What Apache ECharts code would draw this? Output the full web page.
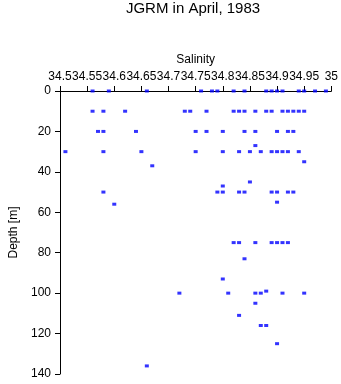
<!DOCTYPE html>
<html>
<head>
<meta charset="utf-8">
<script src="https://cdn.jsdelivr.net/npm/echarts@6/dist/echarts.min.js"></script>
<style>html,body{margin:0;padding:0;background:#fff}#c{width:341px;height:384px}</style>
</head>
<body>
<div id="c"></div>
<script>
var titleText = "JGRM in April, 1983";
var xName = "Salinity";
var yName = "Depth [m]";
var salinity = [
  34.56, 34.59, 34.66, 34.76, 34.78, 34.79, 34.82, 34.84, 34.88, 34.89, 34.90, 34.91, 34.94, 34.95, 34.97, 34.99,
  34.56, 34.58, 34.62, 34.73, 34.74, 34.77, 34.82, 34.83, 34.84, 34.86, 34.88, 34.89, 34.91, 34.92, 34.93, 34.94, 34.95,
  34.57, 34.58, 34.64, 34.75, 34.77, 34.80, 34.84, 34.86, 34.90, 34.92, 34.93,
  34.86,
  34.51, 34.58, 34.65, 34.75, 34.80, 34.83, 34.85, 34.87, 34.89, 34.90, 34.91, 34.92, 34.94,
  34.95, 34.67, 34.85, 34.80,
  34.58, 34.79, 34.80, 34.83, 34.84, 34.89, 34.90, 34.92, 34.93,
  34.90, 34.60,
  34.82, 34.83, 34.86, 34.89, 34.90, 34.91, 34.92,
  34.84, 34.80,
  34.72, 34.81, 34.86, 34.87, 34.91, 34.95, 34.88,
  34.86, 34.83, 34.87, 34.88, 34.90, 34.66
];
var depth = [
  0, 0, 0, 0, 0, 0, 0, 0, 0, 0, 0, 0, 0, 0, 0, 0,
  10, 10, 10, 10, 10, 10, 10, 10, 10, 10, 10, 10, 10, 10, 10, 10, 10,
  20, 20, 20, 20, 20, 20, 20, 20, 20, 20, 20,
  27,
  30, 30, 30, 30, 30, 30, 30, 30, 30, 30, 30, 30, 30,
  35, 37, 45, 47,
  50, 50, 50, 50, 50, 50, 50, 50, 50,
  55, 56,
  75, 75, 75, 75, 75, 75, 75,
  83, 93,
  100, 100, 100, 100, 100, 100, 99,
  105, 111, 116, 116, 125, 136
];
var xMin = 34.5, xMax = 35, xStep = 0.05;
var yMin = 0, yMax = 140, yStep = 20;

var points = salinity.map(function (s, i) { return [s, depth[i]]; });
var font = "Liberation Sans, Arial, sans-serif";
var chart = echarts.init(document.getElementById('c'), null, {renderer: 'canvas'});
chart.setOption({
  animation: false,
  backgroundColor: '#fff',
  title: {
    text: titleText, left: 188, top: -4, textAlign: 'center',
    textStyle: {fontFamily: font, fontWeight: 'normal', fontSize: 15, color: '#000'}
  },
  grid: {left: 48, right: 9, top: 91, bottom: 10, containLabel: false},
  xAxis: {
    type: 'value', position: 'top', min: xMin, max: xMax, interval: xStep,
    name: xName, nameLocation: 'middle', nameGap: 21,
    nameTextStyle: {fontFamily: font, fontSize: 12, color: '#000'},
    axisLine: {show: true, onZero: false, lineStyle: {color: '#000', width: 1}},
    axisTick: {show: true, length: 5, inside: false, lineStyle: {color: '#000'}},
    axisLabel: {fontFamily: font, fontSize: 12, color: '#000', margin: 8,
      formatter: function (v) { return String(parseFloat(v.toFixed(2))); }},
    splitLine: {show: false}
  },
  yAxis: {
    type: 'value', inverse: true, min: yMin, max: yMax, interval: yStep,
    name: yName, nameLocation: 'middle', nameGap: 40,
    nameTextStyle: {fontFamily: font, fontSize: 12, color: '#000'},
    axisLine: {show: true, onZero: false, lineStyle: {color: '#000', width: 1}},
    axisTick: {show: true, length: 5, lineStyle: {color: '#000'}},
    axisLabel: {fontFamily: font, fontSize: 12, color: '#000', margin: 9},
    splitLine: {show: false}
  },
  series: [{
    type: 'scatter', data: points, symbol: 'rect', symbolSize: [4, 3],
    itemStyle: {color: '#0000ff'}
  }]
});
</script>
</body>
</html>
